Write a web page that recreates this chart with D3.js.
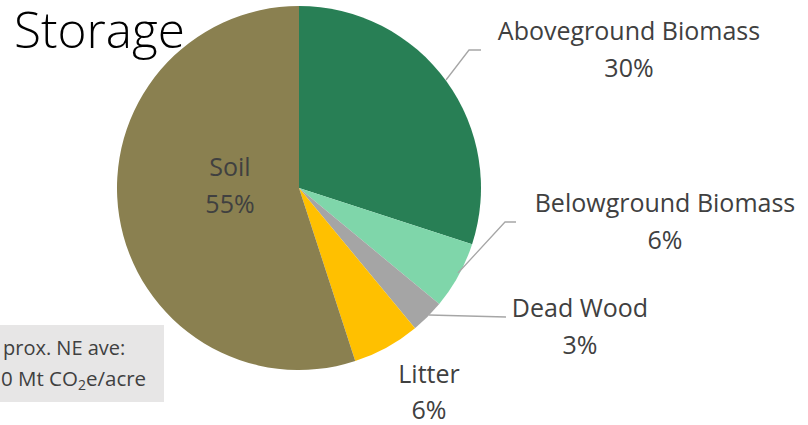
<!DOCTYPE html>
<html><head><meta charset="utf-8">
<script src="https://cdn.jsdelivr.net/npm/d3@7"></script>
<style>body{margin:0;background:#fff}svg{display:block}</style>
</head><body>
<script>
const categories = ["Aboveground Biomass","Belowground Biomass","Dead Wood","Litter","Soil"];
const values = [30,6,3,6,55];
const colors = ["#287F55","#7FD6AA","#A5A5A5","#FFC000","#8A8050"];
const boxLines = ["prox. NE ave:", "0 Mt CO", "2", "e/acre"];

const W=808,H=425, cx=299, cy=188, R=182;
const svg=d3.select("body").append("svg").attr("width",W).attr("height",H);
const font="'Open Sans', 'Noto Sans', sans-serif";
const pie=d3.pie().sort(null).value(d=>d)(values);
const arc=d3.arc().innerRadius(0).outerRadius(R);
const g=svg.append("g").attr("transform",`translate(${cx},${cy})`);
g.selectAll("path").data(pie).join("path").attr("d",arc).attr("fill",(d,i)=>colors[i]);

// text box
svg.append("rect").attr("x",0).attr("y",325).attr("width",164).attr("height",77).attr("fill","#E7E6E6");
const tb=svg.append("g").attr("font-family",font).attr("fill","#404040");
tb.append("text").attr("x",3).attr("y",355).attr("font-size",20).text(boxLines[0]);
const t2=tb.append("text").attr("x",1).attr("y",386).attr("font-size",20.5);
t2.append("tspan").text(boxLines[1]);
t2.append("tspan").attr("font-size",14).attr("dy",4).text(boxLines[2]);
t2.append("tspan").attr("dy",-4).text(boxLines[3]);

// title
svg.append("text").attr("x",14).attr("y",48).attr("font-family",font).attr("font-weight",300)
  .attr("font-size",49.5).attr("fill","#000").text("Storage");

// labels
const pct=d3.format(".0%");
const total=d3.sum(values);
const labelPos=[[629,31,68],[665,203,240],[580,308,345],[429,374,410],[230,167,204]];
const leaders=[[[446,80],[469,50],[481,50]],[[458,273],[505,222],[516,222]],[[429,315],[506,317]],null,null];
leaders.forEach(l=>{ if(l) svg.append("path").attr("d",d3.line()(l)).attr("fill","none").attr("stroke","#A6A6A6").attr("stroke-width",1.3); });
categories.forEach((c,i)=>{
  const [x,y1,y2]=labelPos[i];
  const t=svg.append("g").attr("font-family",font).attr("font-size",25).attr("fill","#404040").attr("text-anchor","middle");
  t.append("text").attr("x",x).attr("y",y1).attr("dy","0.35em").text(c);
  t.append("text").attr("x",x).attr("y",y2).attr("dy","0.35em").text(pct(values[i]/total));
});
</script>
</body></html>
